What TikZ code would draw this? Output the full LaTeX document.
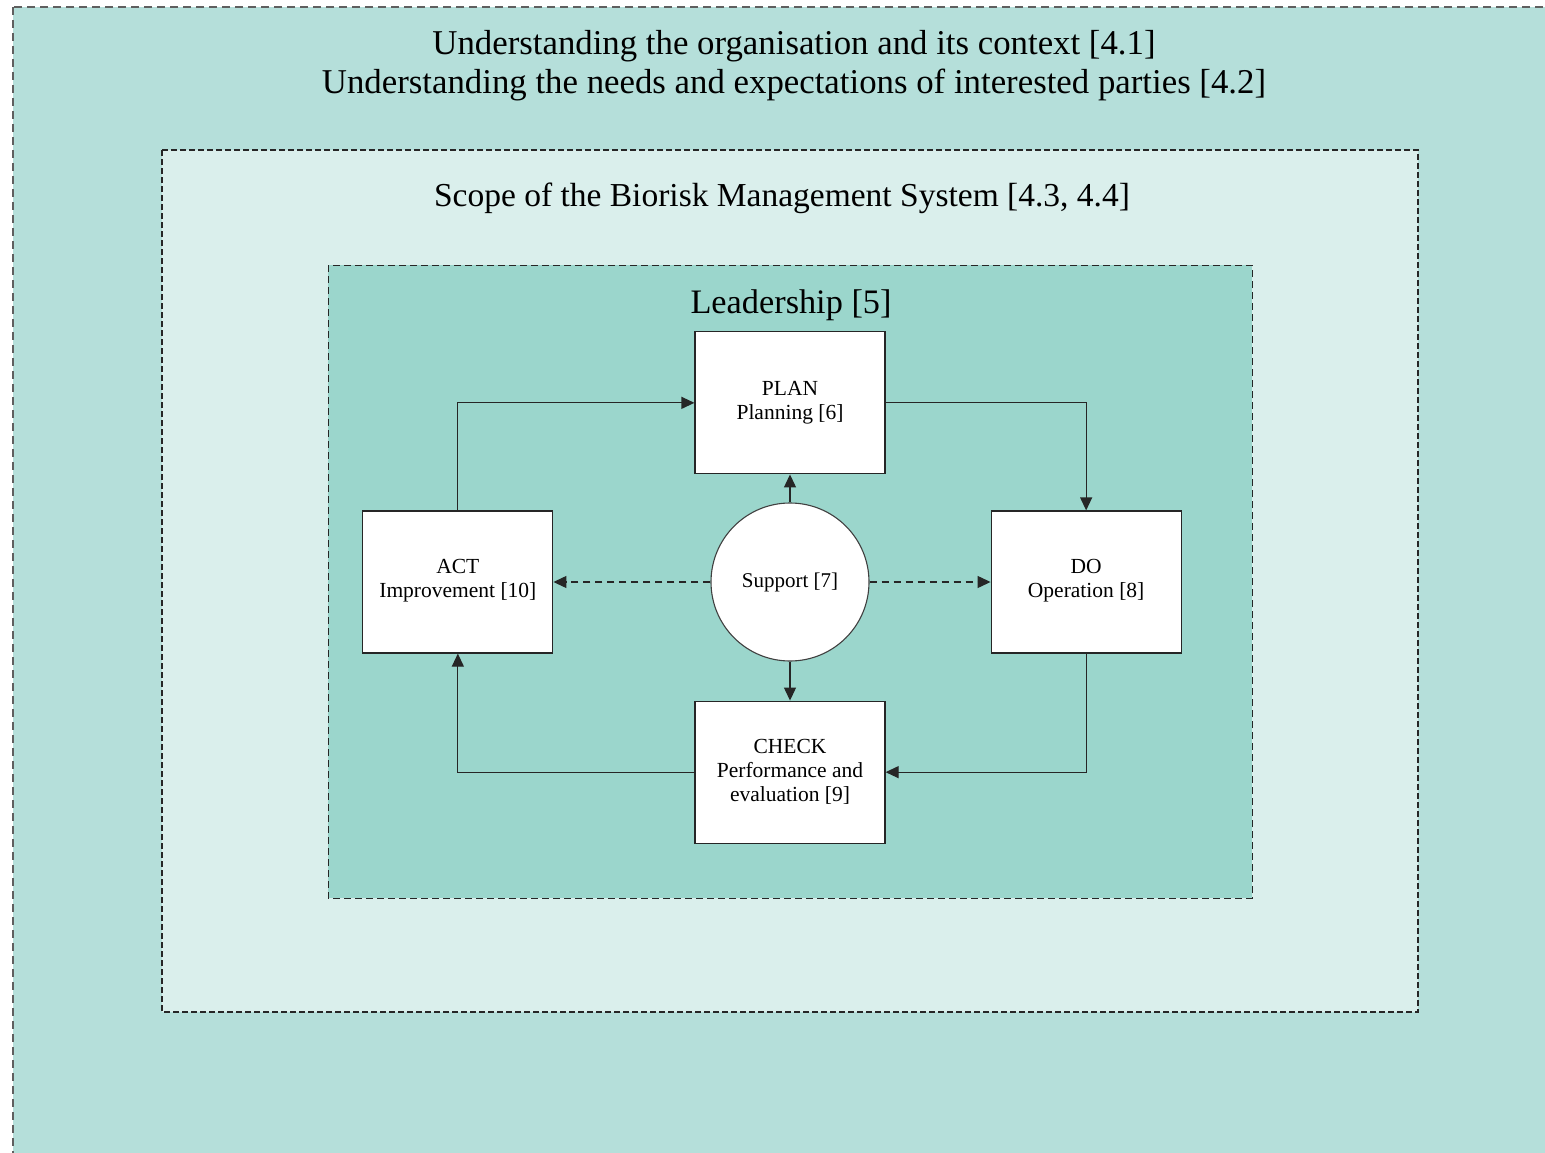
\documentclass[tikz,border=0pt]{standalone}
\usepackage{fontspec}
\setmainfont{Liberation Serif}
\usepackage{xcolor}
\usetikzlibrary{arrows.meta, positioning}
\definecolor{contextbg}{RGB}{181,223,218}
\definecolor{scopebg}{RGB}{218,239,236}
\definecolor{leadbg}{RGB}{155,214,204}
\definecolor{framegray}{RGB}{95,95,95}

\begin{document}
\begin{tikzpicture}[
  x=1pt, y=-1pt,
  stage/.style={rectangle, draw=black!85, line width=1.2pt, fill=white, minimum width=190pt, minimum height=142pt, inner sep=0pt, align=center, font=\fontsize{21.5}{24}\selectfont},
  hub/.style={circle, draw=black!75, line width=1.1pt, fill=white, minimum size=158pt, inner sep=0pt, font=\fontsize{21}{24}\selectfont},
  heading/.style={anchor=base, inner sep=0pt, font=\fontsize{33.5}{40}\selectfont},
  flow/.style={draw=black!85, line width=1.2pt, -{Triangle[length=13pt, width=12pt]}},
  aid/.style={flow, dashed, dash pattern=on 7pt off 5pt}
]
  \clip (0,0) rectangle (1545,1153);
  \fill[white] (0,0) rectangle (1545,1153);

  % context, scope and leadership frames
  \draw[framegray, fill=contextbg, line width=1.3pt, dash pattern=on 8pt off 5pt] (13,7) rectangle (1600,1200);
  \draw[black!85, fill=scopebg, line width=1.1pt, dash pattern=on 6pt off 3pt] (162,150) rectangle (1418,1012);
  \draw[black!85, fill=leadbg, line width=1pt, dash pattern=on 7pt off 4pt] (328,265) rectangle (1252,898);

  \node[heading, font=\fontsize{34.8}{40}\selectfont] (context1) at (794,55) {Understanding the organisation and its context [4.1]};
  \node[heading, font=\fontsize{34.8}{40}\selectfont] (context2) at (794,94) {Understanding the needs and expectations of interested parties [4.2]};
  \node[heading] (scope) at (782,206) {Scope of the Biorisk Management System [4.3, 4.4]};
  \node[heading, font=\fontsize{34.3}{40}\selectfont] (lead) at (791,313) {Leadership [5]};

  % PDCA cycle
  \node[hub] (support) at (790,582) {Support [7]\\[6pt]};
  \node[stage, above=28pt of support] (plan) {PLAN\\Planning [6]};
  \node[stage, below=39pt of support] (check) {CHECK\\Performance and\\evaluation [9]};
  \node[stage, left=157pt of support] (act) {ACT\\Improvement [10]\\[-16pt]};
  \node[stage, right=121pt of support] (do) {DO\\Operation [8]\\[-16pt]};

  \draw[flow] (act.north) |- (plan.west);
  \draw[flow] (plan.east) -| (do.north);
  \draw[flow] (do.south) |- (check.east);
  \draw[flow] (check.west) -| (act.south);

  \draw[flow] (support) -- (plan);
  \draw[flow] (support) -- (check);
  \draw[aid] (support) -- (act);
  \draw[aid] (support) -- (do);
\end{tikzpicture}
\end{document}
